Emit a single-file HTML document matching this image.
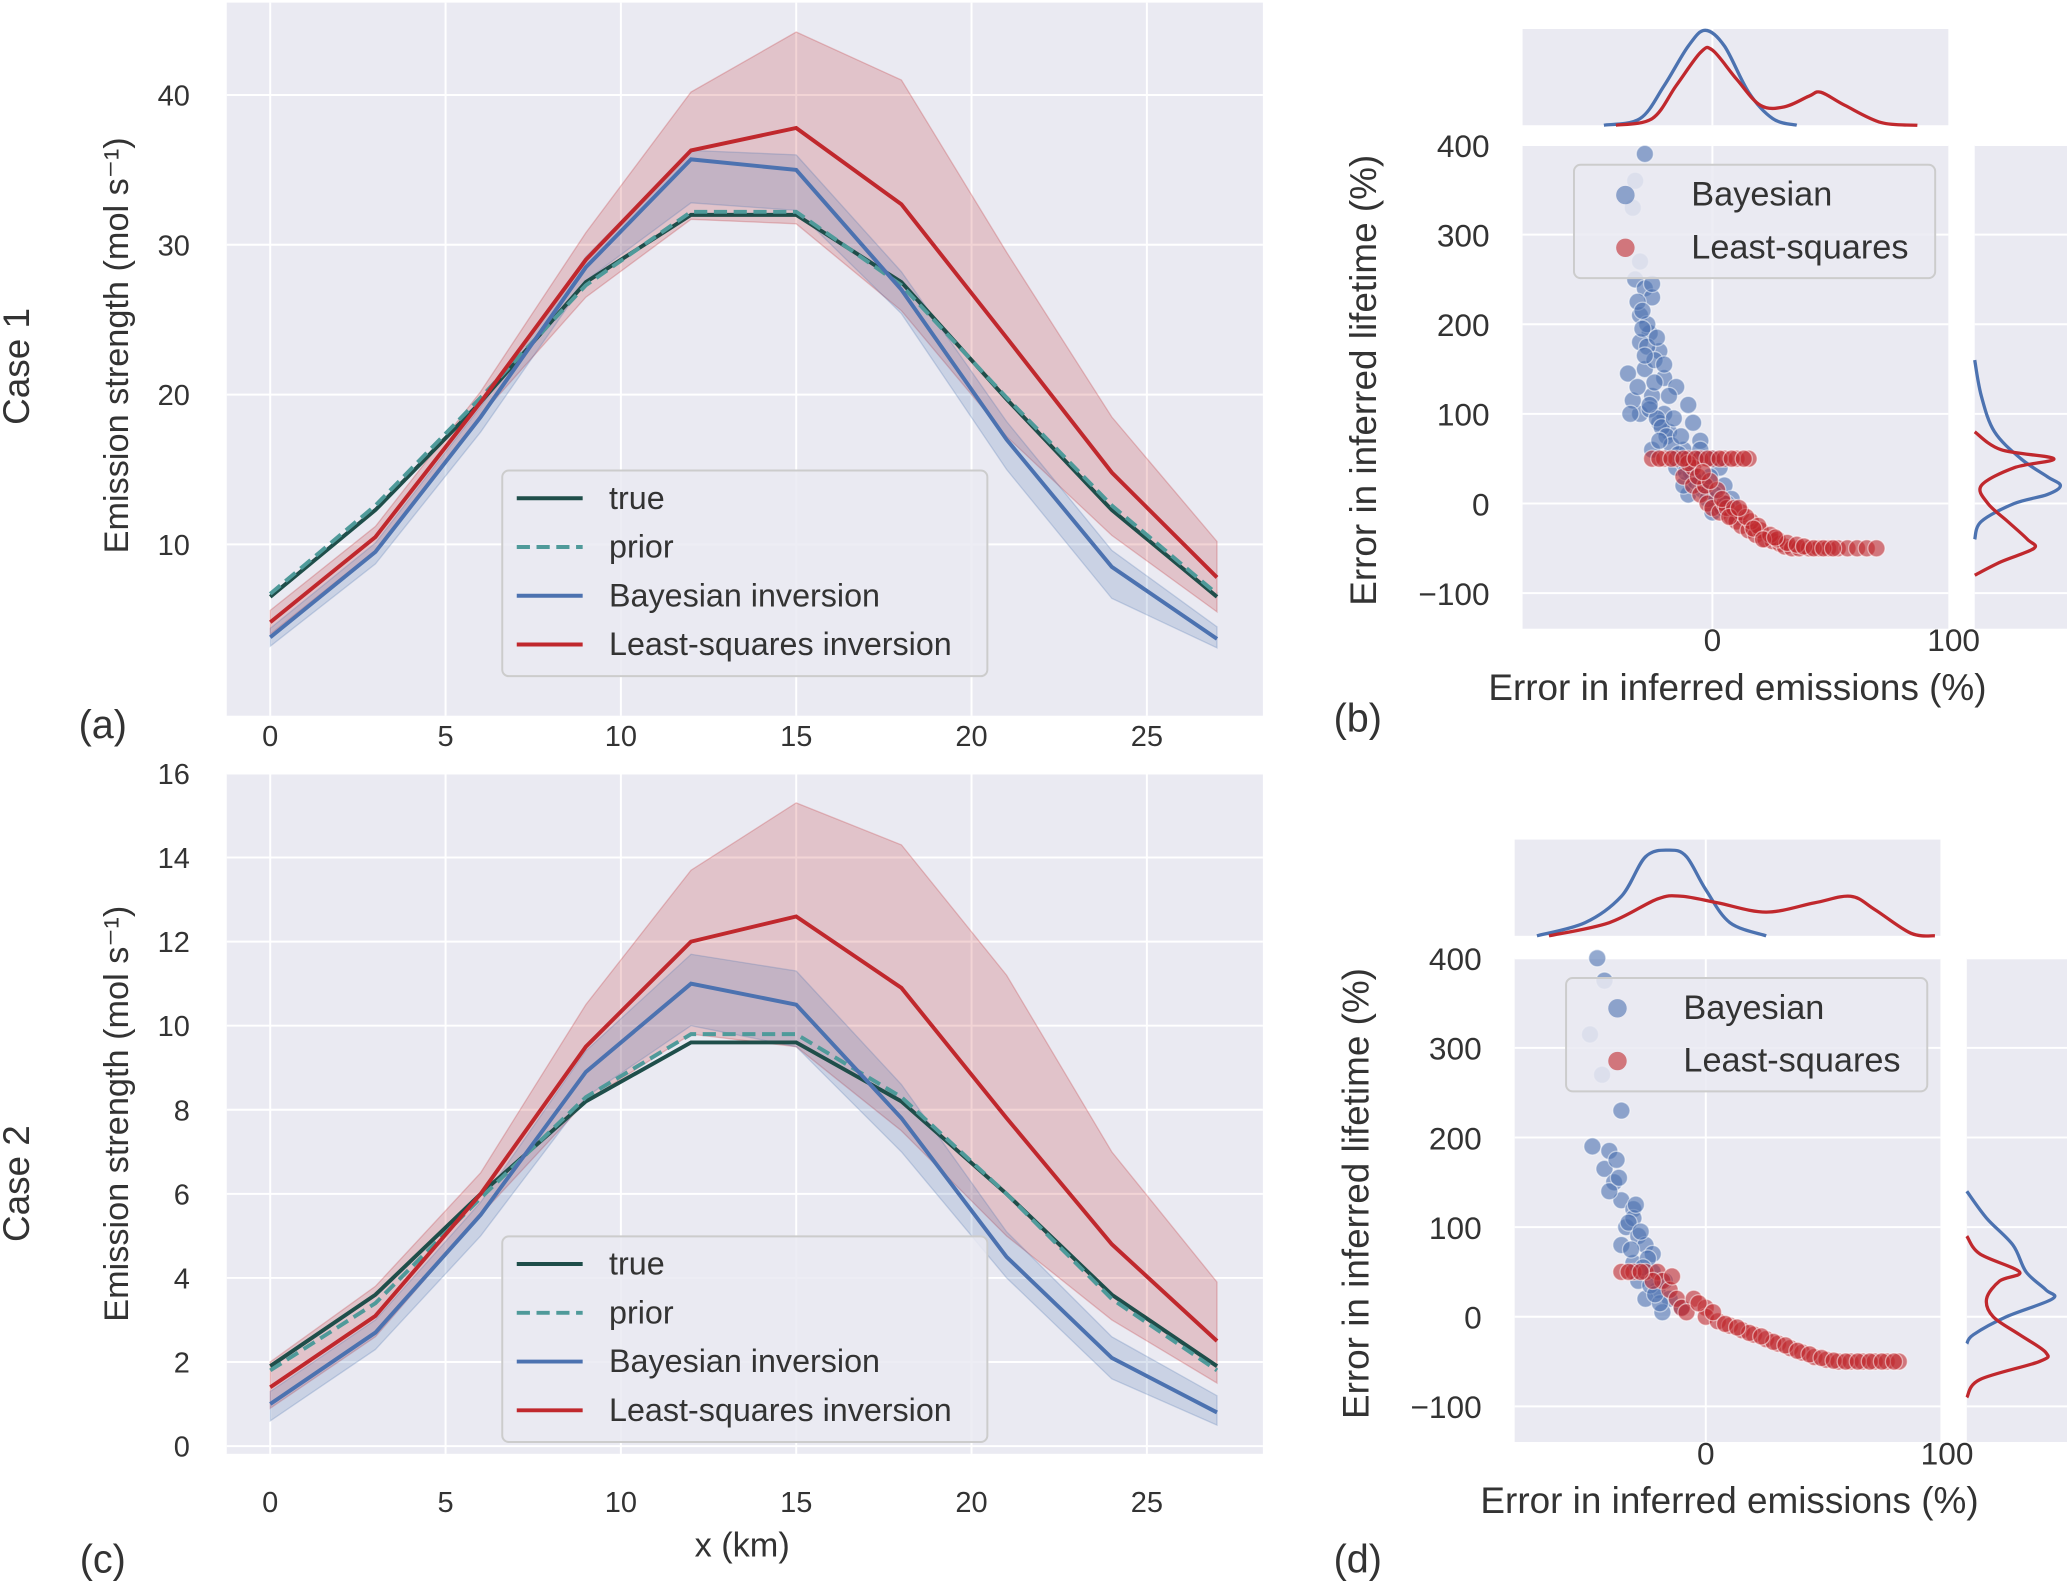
<!DOCTYPE html>
<html><head><meta charset="utf-8"><style>
html,body{margin:0;padding:0;background:#fff}
svg{display:block}
text{font-family:"Liberation Sans",sans-serif;fill:#333}
</style></head><body>
<svg id="fig" width="2067" height="1583" viewBox="0 0 1568 1201" preserveAspectRatio="none" xmlns="http://www.w3.org/2000/svg"></svg>
<script>
// ---------- data ----------
const xKm = [0,3,6,9,12,15,18,21,24,27];
const aTrue  = [6.5,12.3,19.5,27.5,32,32,27.5,19.7,12.3,6.5];
const aPrior = [6.7,12.6,19.8,27.3,32.2,32.2,27.3,19.8,12.6,6.7];
const aBayes = [3.8,9.5,18.5,28.5,35.7,35,27,17,8.5,3.7];
const aBayesHi = [4.4,10.1,19.2,29.2,36.3,36,28.2,18.2,9.6,4.5];
const aBayesLo = [3.2,8.7,17.5,27.6,32.8,32.3,25.4,15,6.4,3.1];
const aLS = [4.8,10.5,19.5,29,36.3,37.8,32.7,23.8,14.8,7.8];
const aLSHi = [5.6,11.2,20.2,30.8,40.2,44.2,41,29.5,18.5,10.2];
const aLSLo = [4.0,9.6,18.6,26.5,31.7,31.4,25.6,17.2,10.6,5.5];
const cTrue  = [1.9,3.6,6,8.2,9.6,9.6,8.2,6,3.6,1.9];
const cPrior = [1.8,3.4,5.9,8.3,9.8,9.8,8.3,6,3.5,1.8];
const cBayes = [1.0,2.7,5.5,8.9,11,10.5,7.8,4.5,2.1,0.8];
const cBayesHi = [1.3,3.0,5.8,9.4,11.7,11.3,8.6,5.1,2.6,1.2];
const cBayesLo = [0.6,2.3,5.0,8.3,10.0,9.5,7.0,4.0,1.6,0.5];
const cLS = [1.4,3.1,6,9.5,12,12.6,10.9,7.8,4.8,2.5];
const cLSHi = [2.0,3.8,6.5,10.5,13.7,15.3,14.3,11.2,7.0,3.9];
const cLSLo = [0.9,2.6,5.5,8.2,9.8,9.5,7.5,5.0,3.0,1.5];
const xTicks = [0,5,10,15,20,25];
const aYTicks = [10,20,30,40];
const cYTicks = [0,2,4,6,8,10,12,14,16];
const sYTicks = [-100,0,100,200,300,400];
const sXTicks = [0,100];
const bBayesE = [-28,-32,-33,-30,-32,-28,-25,-30,-26,-30,-22,-28,-35,-20,-25,-15,-30,-20,-10,-18,-8,-25,-12,-5,-15,0,-8,-3,5,-10,2,8,0,10,-5,-22,-18,-27,-12,3,-31,-29,-27,-24,-33,-26,-23,-21,-19,-17,-14,-12,-9,-7,-4,-2,1,4,6,-16,-13,-11,-6,-1,-24,-28,-20,-23,-34,-29,-25,-31,-26,-22];
const bBayesL = [390,360,330,270,250,240,230,210,190,180,170,150,145,140,120,130,100,100,110,80,90,60,60,70,40,50,30,20,20,10,0,5,-10,-15,60,90,120,200,20,40,225,195,175,160,115,105,95,85,75,65,55,45,35,25,15,5,10,-5,0,95,75,35,50,30,135,165,155,185,100,215,245,130,110,70];
const bLSE = [-25,-20,-15,-10,-5,0,5,10,15,-12,-8,-5,-2,0,3,5,8,10,12,15,18,20,22,25,28,30,33,36,40,44,48,52,56,60,64,68,-3,2,6,12,16,-8,-10,-22,-17,-12,-7,-2,3,8,13,-6,-1,4,9,14,19,24,27,31,35,38,42,46,50,-4,7,11,17,21,26];
const bLSL = [50,50,50,50,50,50,50,50,50,30,20,10,0,-5,-10,0,-15,-20,-25,-30,-35,-30,-40,-42,-45,-48,-50,-50,-50,-50,-50,-50,-50,-50,-50,-50,20,15,-5,-10,-20,40,45,50,50,50,50,50,50,50,50,30,25,5,-5,-15,-25,-35,-40,-44,-46,-48,-50,-50,-50,35,-15,-5,-28,-40,-38];
const dBayesE = [-45,-42,-48,-43,-35,-47,-40,-42,-38,-35,-30,-33,-28,-35,-25,-30,-22,-28,-20,-25,-15,-18,-10,-30,-40,-22,-32,-27,-24,-36,-31,-26,-23,-19,-17,-29,-37,-21];
const dBayesL = [400,375,315,270,230,190,185,165,150,130,120,100,90,80,80,60,50,40,30,20,20,5,10,110,140,70,105,95,65,155,75,55,35,15,40,125,175,25];
const dLSE = [-35,-30,-25,-20,-18,-15,-12,-10,-5,0,0,5,10,15,20,25,30,35,40,45,50,55,60,65,70,75,80,-22,-8,18,28,-32,-27,-14,-3,3,8,13,23,33,38,43,48,53,58,63,68,73,78];
const dLSL = [50,50,50,50,40,30,20,10,20,10,0,-5,-10,-15,-20,-25,-30,-35,-40,-45,-48,-50,-50,-50,-50,-50,-50,40,5,-18,-28,50,50,45,15,5,-8,-12,-22,-32,-38,-42,-46,-49,-50,-50,-50,-50,-50];
// marginal KDE (grid value, density in px)
const bTopBX=[-45,-30,-20,-10,-3,5,15,25,35], bTopBD=[0,5,30,60,72,60,25,5,0];
const bTopLX=[-40,-25,-15,-5,0,10,20,30,40,45,55,70,85], bTopLD=[0,5,30,55,57,35,15,14,22,25,15,2,0];
const bRtBY=[160,120,80,50,30,20,10,0,-20,-40], bRtBD=[0,5,15,35,55,65,55,30,5,0];
const bRtLY=[80,60,50,40,20,0,-20,-40,-50,-65,-80], bRtLD=[0,20,60,30,5,10,25,40,45,20,0];
const dTopBX=[-70,-50,-35,-25,-15,-8,0,10,25], dTopBD=[0,10,30,60,65,60,35,10,0];
const dTopLX=[-65,-40,-20,-10,5,25,45,60,70,85,95], dTopLD=[0,10,28,30,25,18,25,30,20,2,0];
const dRtBY=[140,110,80,50,30,20,0,-20,-30], dRtBD=[0,15,35,45,60,65,30,5,0];
const dRtLY=[90,70,50,40,20,0,-20,-40,-50,-70,-90], dRtLD=[0,10,40,25,15,20,40,60,55,10,0];

const S=document.getElementById('fig');
const NS='http://www.w3.org/2000/svg';
function el(tag,attrs,parent,txt){const e=document.createElementNS(NS,tag);for(const k in attrs)e.setAttribute(k,attrs[k]);if(txt!==undefined)e.textContent=txt;(parent||S).appendChild(e);return e;}
const BG='#eaeaf2', TEAL='#1f4e4a', PRIOR='#4f9a9a', BLUE='#4c72b0', RED='#c0282d';
function smooth(pts){let d='M'+pts[0][0].toFixed(1)+','+pts[0][1].toFixed(1);
  for(let i=0;i<pts.length-1;i++){const p0=pts[Math.max(0,i-1)],p1=pts[i],p2=pts[i+1],p3=pts[Math.min(pts.length-1,i+2)];
    const c1=[p1[0]+(p2[0]-p0[0])/6,p1[1]+(p2[1]-p0[1])/6],c2=[p2[0]-(p3[0]-p1[0])/6,p2[1]-(p3[1]-p1[1])/6];
    d+='C'+c1[0].toFixed(1)+','+c1[1].toFixed(1)+' '+c2[0].toFixed(1)+','+c2[1].toFixed(1)+' '+p2[0].toFixed(1)+','+p2[1].toFixed(1);}
  return d;}
function txt(x,y,s,size,name,rot,anchor){const t=el('text',{x:x,y:y,'font-size':size,'text-anchor':anchor||'middle',fill:'#222'},S,s);if(rot)t.setAttribute('transform','rotate(-90 '+x+' '+y+')');return t;}

function linePanel(name,top,bot,yMin,yMax,yTicks,data,legY,extra){
  const g=el('g',{});
  const X=v=>205+v*26.6; const Y=v=>bot-(v-yMin)/(yMax-yMin)*(bot-top);
  el('rect',{x:172,y:top-3,width:786,height:bot-top+6+extra,fill:BG},g);
  xTicks.forEach(t=>el('line',{x1:X(t),x2:X(t),y1:top-3,y2:bot+3+extra,stroke:'#fff','stroke-width':1.5},g));
  yTicks.forEach(t=>{el('line',{x1:172,x2:958,y1:Y(t),y2:Y(t),stroke:'#fff','stroke-width':1.5},g);
    const tl=el('text',{x:144,y:Y(t)+8,'font-size':22,'text-anchor':'end'},g,String(t));});
  const path=a=>a.map((v,i)=>(i?'L':'M')+X(xKm[i]).toFixed(1)+','+Y(v).toFixed(1)).join('');
  const band=(hi,lo)=>path(hi)+lo.slice().reverse().map((v,i)=>'L'+X(xKm[lo.length-1-i]).toFixed(1)+','+Y(v).toFixed(1)).join('')+'Z';
  let p=el('path',{d:band(data.lsHi,data.lsLo),fill:RED,'fill-opacity':0.2,stroke:RED,'stroke-opacity':0.25},g);
  p=el('path',{d:band(data.bHi,data.bLo),fill:BLUE,'fill-opacity':0.2,stroke:BLUE,'stroke-opacity':0.25},g);
  p=el('path',{d:path(data.tr),fill:'none',stroke:TEAL,'stroke-width':3},g);
  p=el('path',{d:path(data.pr),fill:'none',stroke:PRIOR,'stroke-width':3,'stroke-dasharray':'10,5'},g);
  p=el('path',{d:path(data.b),fill:'none',stroke:BLUE,'stroke-width':3},g);
  p=el('path',{d:path(data.ls),fill:'none',stroke:RED,'stroke-width':3},g);
  const lg=el('g',{},g);
  el('rect',{x:381,y:legY,width:368,height:156,rx:5,fill:BG,'fill-opacity':0.85,stroke:'#ccc','stroke-width':1.5},lg);
  const ents=[['true',TEAL,''],['prior',PRIOR,'10,5'],['Bayesian inversion',BLUE,''],['Least-squares inversion',RED,'']];
  ents.forEach((e,i)=>{const yy=legY+21+i*37;el('line',{x1:392,x2:442,y1:yy,y2:yy,stroke:e[1],'stroke-width':3,'stroke-dasharray':e[2]},lg);
    const t=el('text',{x:462,y:yy+8,'font-size':24.5},lg,e[0]);});
}
linePanel('panel-a',5,520,0.59,45.9,aYTicks,{tr:aTrue,pr:aPrior,b:aBayes,bHi:aBayesHi,bLo:aBayesLo,ls:aLS,lsHi:aLSHi,lsLo:aLSLo},357,20);
xTicks.forEach(t=>{const tl=el('text',{x:205+t*26.6,y:566,'font-size':22,'text-anchor':'middle'},S,String(t));});
linePanel('panel-c',590,1100,-0.09,15.9,cYTicks,{tr:cTrue,pr:cPrior,b:cBayes,bHi:cBayesHi,bLo:cBayesLo,ls:cLS,lsHi:cLSHi,lsLo:cLSLo},938,0);
xTicks.forEach(t=>{const tl=el('text',{x:205+t*26.6,y:1147,'font-size':22,'text-anchor':'middle'},S,String(t));});
txt(97,262,'Emission strength (mol s\u207B\u00B9)',26,'y-axis-title-a',true);
txt(97,845,'Emission strength (mol s\u207B\u00B9)',26,'y-axis-title-c',true);
txt(22,278,'Case 1',28,'case-1-label',true);
txt(22,898,'Case 2',28,'case-2-label',true);
txt(563,1181,'x (km)',26,'x-axis-title-c');
txt(78,560,'(a)',30,'panel-label-a');
txt(78,1193,'(c)',30,'panel-label-c');
txt(1030,555,'(b)',30,'panel-label-b');
txt(1030,1193,'(d)',30,'panel-label-d');

function scatterPanel(name,ox,top,bot,topM,x0,be,bl,le,ll,tb,tl,rb,rl){
  const g=el('g',{});
  const X=v=>ox+v*1.83, Y=v=>top+(400-v)*0.68;
  const L=x0, R=x0+323;
  el('rect',{x:L,y:top,width:323,height:bot-top,fill:BG},g);
  el('rect',{x:L,y:topM,width:323,height:73,fill:BG},g);
  el('rect',{x:R+20,y:top,width:80,height:bot-top,fill:BG},g);
  sXTicks.forEach(t=>{if(X(t)<R)el('line',{x1:X(t),x2:X(t),y1:top,y2:bot,stroke:'#fff','stroke-width':1.5},g);
    if(X(t)<R)el('line',{x1:X(t),x2:X(t),y1:topM,y2:topM+73,stroke:'#fff','stroke-width':1.5},g);
    const t2=el('text',{x:X(t),y:bot+17,'font-size':24,'text-anchor':'middle'},g,String(t));});
  sYTicks.forEach(t=>{el('line',{x1:L,x2:R,y1:Y(t),y2:Y(t),stroke:'#fff','stroke-width':1.5},g);
    el('line',{x1:R+20,x2:R+100,y1:Y(t),y2:Y(t),stroke:'#fff','stroke-width':1.5},g);
    const t2=el('text',{x:L-25,y:Y(t)+9,'font-size':24,'text-anchor':'end'},g,(t<0?'\u2212'+(-t):String(t)));});
  be.forEach((e,i)=>{const c=el('circle',{cx:X(e),cy:Y(bl[i]),r:6.5,fill:BLUE,'fill-opacity':0.6,stroke:'#fff','stroke-opacity':0.5},g);});
  le.forEach((e,i)=>{const c=el('circle',{cx:X(e),cy:Y(ll[i]),r:6.5,fill:RED,'fill-opacity':0.6,stroke:'#fff','stroke-opacity':0.5},g);});
  const topPath=(xs,ds)=>smooth(xs.map((v,i)=>[X(v),topM+73-ds[i]]));
  const rtPath=(ys,ds)=>smooth(ys.map((v,i)=>[R+20+ds[i],Y(v)]));
  let p=el('path',{d:topPath(tb[0],tb[1]),fill:'none',stroke:BLUE,'stroke-width':2.5},g);
  p=el('path',{d:topPath(tl[0],tl[1]),fill:'none',stroke:RED,'stroke-width':2.5},g);
  p=el('path',{d:rtPath(rb[0],rb[1]),fill:'none',stroke:BLUE,'stroke-width':2.5},g);
  p=el('path',{d:rtPath(rl[0],rl[1]),fill:'none',stroke:RED,'stroke-width':2.5},g);
  const lg=el('g',{},g);
  el('rect',{x:L+39,y:top+15,width:274,height:86,rx:5,fill:BG,'fill-opacity':0.85,stroke:'#ccc','stroke-width':1.5},lg);
  el('circle',{cx:L+78,cy:top+38,r:7,fill:BLUE,'fill-opacity':0.6},lg);
  el('circle',{cx:L+78,cy:top+78,r:7,fill:RED,'fill-opacity':0.6},lg);
  let t=el('text',{x:L+128,y:top+46,'font-size':26},lg,'Bayesian');
  t=el('text',{x:L+128,y:top+86,'font-size':26},lg,'Least-squares');
  txt(L+163,bot+54,'Error in inferred emissions (%)',28,'x-axis-title');
  txt(L-111,(top+bot)/2-5,'Error in inferred lifetime (%)',28,'y-axis-title',true);
}
scatterPanel('panel-b',1299,110,477,22,1155,bBayesE,bBayesL,bLSE,bLSL,[bTopBX,bTopBD],[bTopLX,bTopLD],[bRtBY,bRtBD],[bRtLY,bRtLD]);
scatterPanel('panel-d',1294,727,1094,637,1149,dBayesE,dBayesL,dLSE,dLSL,[dTopBX,dTopBD],[dTopLX,dTopLD],[dRtBY,dRtBD],[dRtLY,dRtLD]);
</script>
</body></html>
